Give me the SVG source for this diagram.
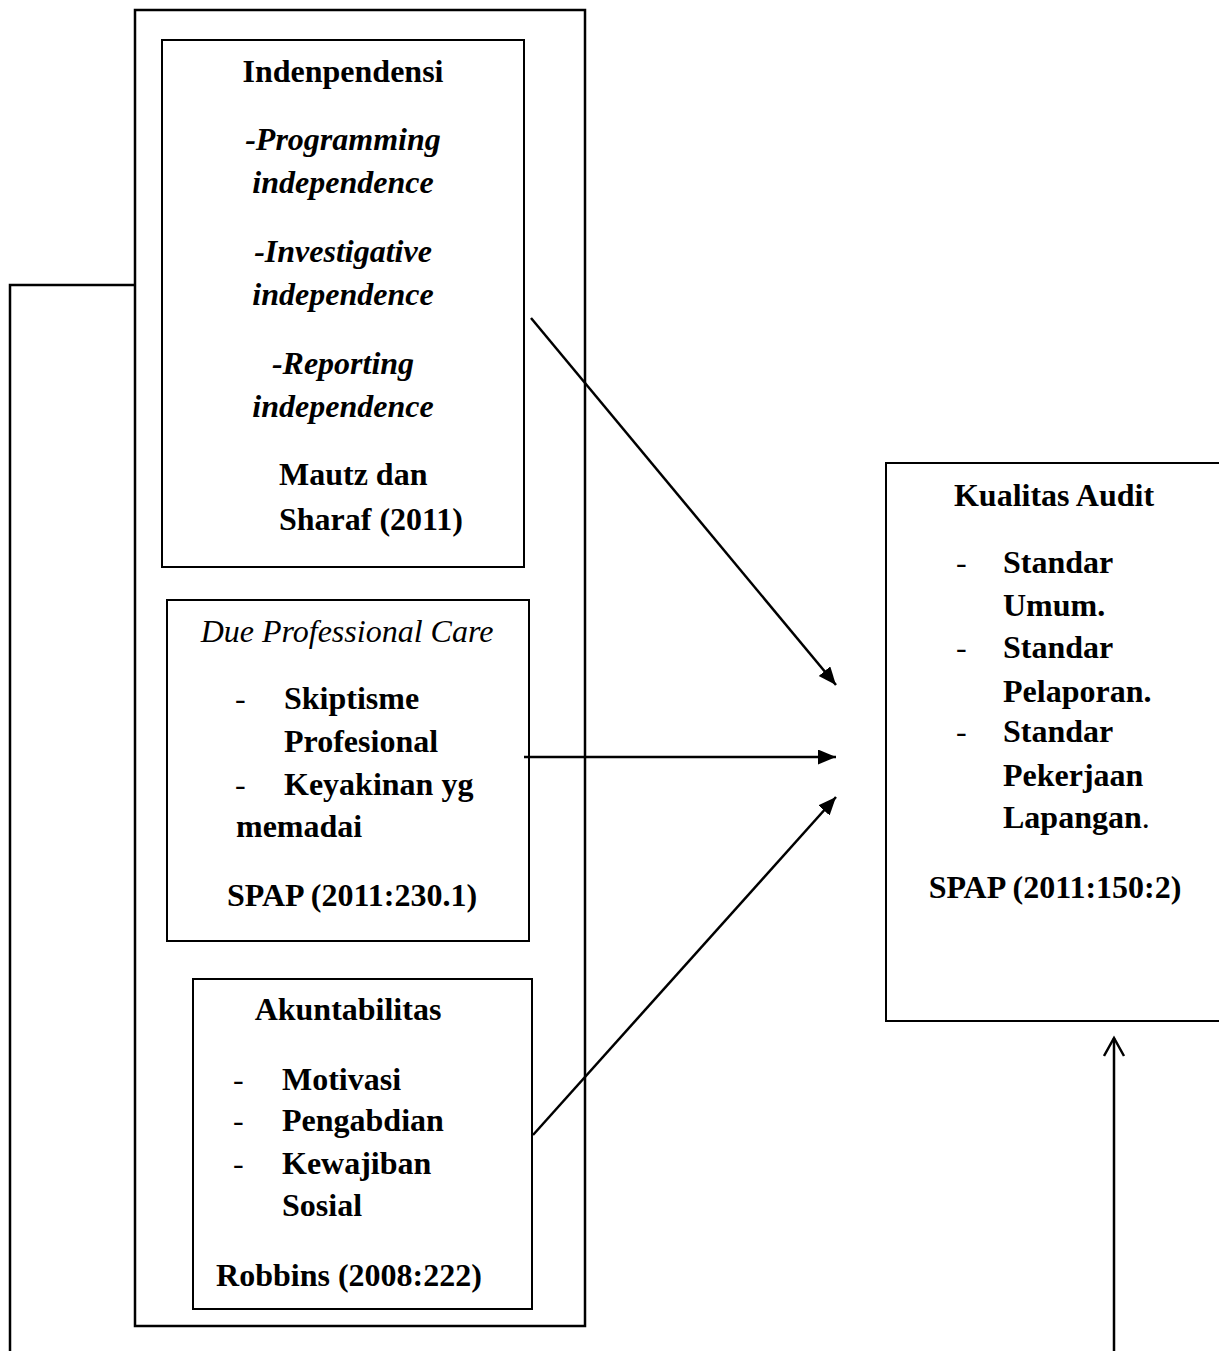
<svg xmlns="http://www.w3.org/2000/svg" width="1219" height="1351" viewBox="0 0 1219 1351">
<style>
  text { font-family: "Liberation Serif", "Times New Roman", serif; font-size: 32px; fill: #000; }
  .b { font-weight: bold; }
  .bi { font-weight: bold; font-style: italic; }
  .i { font-style: italic; }
  .c { text-anchor: middle; }
  .box { fill: #fff; stroke: #000; stroke-width: 2; }
  .outer { fill: none; stroke: #000; stroke-width: 2.5; }
  .conn { fill: none; stroke: #000; stroke-width: 2.5; }
</style>
<defs>
  <marker id="arr" markerUnits="userSpaceOnUse" markerWidth="20" markerHeight="16" refX="18" refY="7.5" orient="auto">
    <path d="M0,0 L18,7.5 L0,15 z" fill="#000"/>
  </marker>
  <marker id="open" markerUnits="userSpaceOnUse" markerWidth="24" markerHeight="24" refX="20" refY="11" orient="auto">
    <path d="M2,1 L20,11 L2,21" fill="none" stroke="#000" stroke-width="2.5"/>
  </marker>
</defs>
<rect width="1219" height="1351" fill="#fff"/>

<g id="outer-group">
  <rect class="outer" x="135" y="10" width="450" height="1316"/>
</g>

<g id="node-independensi">
  <rect class="box" x="162" y="40" width="362" height="527"/>
  <text class="b c" x="343" y="82">Indenpendensi</text>
  <text class="bi c" x="343" y="150">-Programming</text>
  <text class="bi c" x="343" y="193">independence</text>
  <text class="bi c" x="343" y="262">-Investigative</text>
  <text class="bi c" x="343" y="305">independence</text>
  <text class="bi c" x="343" y="374">-Reporting</text>
  <text class="bi c" x="343" y="417">independence</text>
  <text class="b" x="279" y="485">Mautz dan</text>
  <text class="b" x="279" y="530">Sharaf (2011)</text>
</g>

<g id="node-due-professional-care">
  <rect class="box" x="167" y="600" width="362" height="341"/>
  <text class="i c" x="347" y="642">Due Professional Care</text>
  <text x="235" y="709">-</text>
  <text class="b" x="284" y="709">Skiptisme</text>
  <text class="b" x="284" y="752">Profesional</text>
  <text x="235" y="795">-</text>
  <text class="b" x="284" y="795">Keyakinan yg</text>
  <text class="b" x="236" y="837">memadai</text>
  <text class="b c" x="352" y="906">SPAP (2011:230.1)</text>
</g>

<g id="node-akuntabilitas">
  <rect class="box" x="193" y="979" width="339" height="330"/>
  <text class="b c" x="348" y="1020">Akuntabilitas</text>
  <text x="233" y="1090">-</text>
  <text class="b" x="282" y="1090">Motivasi</text>
  <text x="233" y="1131">-</text>
  <text class="b" x="282" y="1131">Pengabdian</text>
  <text x="233" y="1174">-</text>
  <text class="b" x="282" y="1174">Kewajiban</text>
  <text class="b" x="282" y="1216">Sosial</text>
  <text class="b c" x="349" y="1286">Robbins (2008:222)</text>
</g>

<g id="node-kualitas-audit">
  <rect class="box" x="886" y="463" width="400" height="558"/>
  <text class="b c" x="1054" y="506">Kualitas Audit</text>
  <text x="956" y="573">-</text>
  <text class="b" x="1003" y="573">Standar</text>
  <text class="b" x="1003" y="616">Umum.</text>
  <text x="956" y="658">-</text>
  <text class="b" x="1003" y="658">Standar</text>
  <text class="b" x="1003" y="702">Pelaporan.</text>
  <text x="956" y="742">-</text>
  <text class="b" x="1003" y="742">Standar</text>
  <text class="b" x="1003" y="786">Pekerjaan</text>
  <text x="1003" y="828"><tspan class="b">Lapangan</tspan>.</text>
  <text class="b c" x="1055" y="898">SPAP (2011:150:2)</text>
</g>

<g id="connectors">
  <line class="conn" x1="531" y1="318" x2="836" y2="685" marker-end="url(#arr)"/>
  <line class="conn" x1="524" y1="757" x2="836" y2="757" marker-end="url(#arr)"/>
  <line class="conn" x1="533" y1="1135" x2="836" y2="797" marker-end="url(#arr)"/>
  <polyline class="conn" points="135,285 10,285 10,1351"/>
  <line class="conn" x1="1114" y1="1351" x2="1114" y2="1038" marker-end="url(#open)"/>
</g>
</svg>
